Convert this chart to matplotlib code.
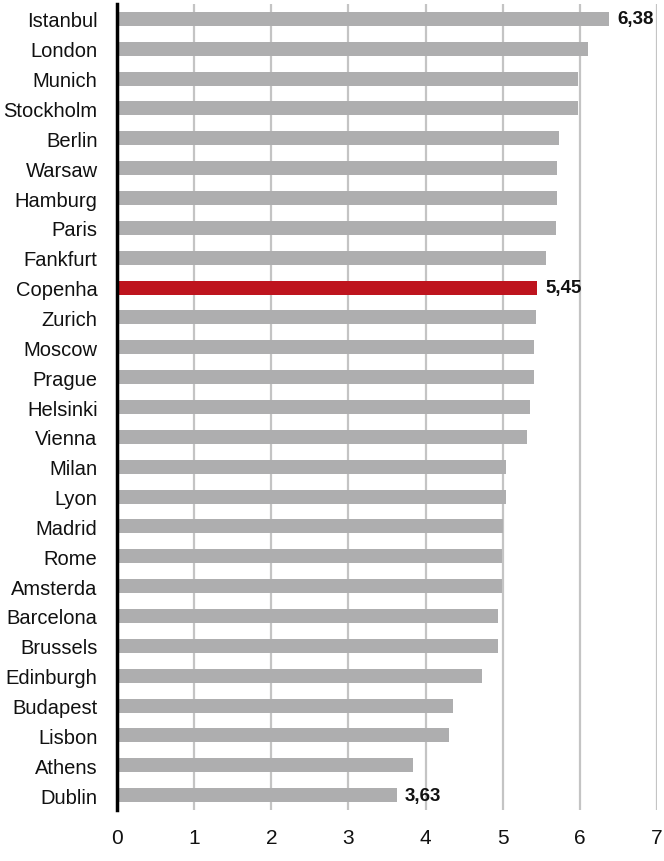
import matplotlib
matplotlib.use('Agg')
import matplotlib.pyplot as plt

bar_grey = '#AEAEAF'
bar_red = '#BE141E'
grid_color = '#C4C4C4'

cities = ['Istanbul', 'London', 'Munich', 'Stockholm', 'Berlin', 'Warsaw', 'Hamburg',
          'Paris', 'Fankfurt', 'Copenha', 'Zurich', 'Moscow', 'Prague', 'Helsinki',
          'Vienna', 'Milan', 'Lyon', 'Madrid', 'Rome', 'Amsterda', 'Barcelona',
          'Brussels', 'Edinburgh', 'Budapest', 'Lisbon', 'Athens', 'Dublin']
values = [6.38, 6.10, 5.97, 5.97, 5.73, 5.71, 5.71,
          5.69, 5.56, 5.45, 5.43, 5.40, 5.40, 5.35,
          5.32, 5.04, 5.04, 5.01, 4.99, 4.99, 4.94,
          4.94, 4.73, 4.36, 4.31, 3.84, 3.63]
highlight = 'Copenha'
labelled = ['Istanbul', 'Copenha', 'Dublin']
x_ticks = [0, 1, 2, 3, 4, 5, 6, 7]

plt.rcParams['font.family'] = ['Liberation Sans', 'DejaVu Sans']

fig = plt.figure(figsize=(6.64, 8.62), dpi=100)
ax = fig.add_axes([117 / 664, 1 - 811 / 862, 540 / 664, 806 / 862])

pos = list(range(len(cities)))
colors = [bar_red if c == highlight else bar_grey for c in cities]
ax.barh(pos, values, height=0.47, color=colors, zorder=3)

# etiquettes de valeur (premier, mis en avant, dernier)
for i, (c, v) in enumerate(zip(cities, values)):
    if c in labelled:
        ax.text(v + 0.1, i, f'{v:.2f}'.replace('.', ','), va='center', ha='left',
                fontsize=13.5, fontweight='bold', color='#111111', zorder=4)

ax.set_ylim(len(cities) - 0.5, -0.5)
ax.set_xlim(0, 7)
ax.set_yticks(pos)
ax.set_yticklabels(cities, fontsize=14.5, color='#111111')
ax.set_xticks(x_ticks)
ax.set_xticklabels([str(t) for t in x_ticks], fontsize=15, color='#111111')
ax.tick_params(axis='y', length=0, pad=14)
ax.tick_params(axis='x', length=0, pad=13)

ax.grid(axis='x', color=grid_color, linewidth=1.6, zorder=0)
for s in ['top', 'right', 'bottom']:
    ax.spines[s].set_visible(False)
ax.spines['left'].set_linewidth(2.5)
ax.spines['left'].set_color('black')
ax.spines['left'].set_zorder(5)

fig.savefig('out.png', dpi=100)
